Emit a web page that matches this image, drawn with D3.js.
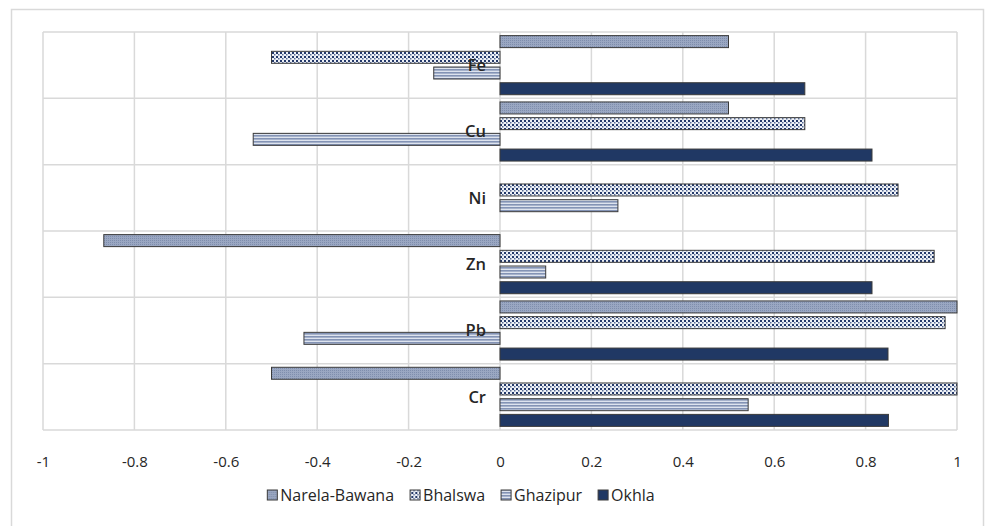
<!DOCTYPE html>
<html><head><meta charset="utf-8">
<script src="https://cdn.jsdelivr.net/npm/d3@7"></script>
<style>body{margin:0;background:#fff;}svg{display:block;font-family:"Open Sans",sans-serif;}</style>
</head><body><svg id="c" width="986" height="526"></svg>
<script>
const categories = ["Fe","Cu","Ni","Zn","Pb","Cr"];
const seriesNames = ["Narela-Bawana","Bhalswa","Ghazipur","Okhla"];
const narela = [0.5, 0.5, 0, -0.867, 1.0, -0.5];
const bhalswa = [-0.5, 0.667, 0.871, 0.95, 0.974, 1.0];
const ghazipur = [-0.145, -0.54, 0.258, 0.1, -0.429, 0.543];
const okhla = [0.667, 0.814, 0, 0.814, 0.849, 0.85];
const xTicks = [-1,-0.8,-0.6,-0.4,-0.2,0,0.2,0.4,0.6,0.8,1];
const seriesValues = [narela, bhalswa, ghazipur, okhla];

const svg = d3.select("#c");
const defs = svg.append("defs");
let p = defs.append("pattern").attr("id","p0").attr("patternUnits","userSpaceOnUse").attr("width",2).attr("height",2);
p.append("rect").attr("width",2).attr("height",2).attr("fill","#9AA7C2");
p.append("rect").attr("width",1).attr("height",1).attr("fill","#7F8EAD");
p = defs.append("pattern").attr("id","p1").attr("patternUnits","userSpaceOnUse").attr("width",4).attr("height",4);
p.append("rect").attr("width",4).attr("height",4).attr("fill","#EEF1F6");
p.append("rect").attr("x",0).attr("y",0).attr("width",2).attr("height",2).attr("fill","#24396A");
p.append("rect").attr("x",2).attr("y",2).attr("width",1.5).attr("height",1.5).attr("fill","#5B6E96");
p = defs.append("pattern").attr("id","p2").attr("patternUnits","userSpaceOnUse").attr("width",4).attr("height",3);
p.append("rect").attr("width",4).attr("height",3).attr("fill","#DDE3EE");
p.append("rect").attr("y",0).attr("width",4).attr("height",1.6).attr("fill","#8393B5");
const fills = ["url(#p0)","url(#p1)","url(#p2)","#203864"];

svg.append("rect").attr("x",11.5).attr("y",9.5).attr("width",972).attr("height",530)
  .attr("fill","none").attr("stroke","#D9D9D9").attr("stroke-width",1.5);

const x = d3.scaleLinear().domain([-1,1]).range([43,957]);
const y = d3.scaleBand().domain(categories).range([32,430]).paddingInner(0).paddingOuter(0);
const yi = d3.scaleBand().domain(seriesNames).range([0,y.bandwidth()]).paddingInner(0.236).paddingOuter(0.23);

const g = svg.append("g");
g.selectAll("line.v").data(xTicks).join("line")
  .attr("x1",d=>x(d)).attr("x2",d=>x(d)).attr("y1",32).attr("y2",430)
  .attr("stroke","#D9D9D9").attr("stroke-width",1.5);
const hb = categories.map(c=>y(c)).concat([y(categories[categories.length-1])+y.bandwidth()]);
g.selectAll("line.h").data(hb).join("line")
  .attr("x1",x(-1)).attr("x2",x(1)).attr("y1",d=>d).attr("y2",d=>d)
  .attr("stroke","#D9D9D9").attr("stroke-width",1.5);

const bars = [];
categories.forEach((c,ci)=>seriesValues.forEach((vals,si)=>{
  if (vals[ci] !== 0) bars.push({c, s:seriesNames[si], si, v:vals[ci]});
}));
g.selectAll("rect.bar").data(bars).join("rect")
  .attr("x",d=>x(Math.min(0,d.v))).attr("width",d=>Math.abs(x(d.v)-x(0)))
  .attr("y",d=>y(d.c)+yi(d.s)).attr("height",yi.bandwidth())
  .attr("fill",d=>fills[d.si]).attr("stroke","#3A3A3A").attr("stroke-width",1);

svg.append("g").selectAll("text").data(categories).join("text")
  .attr("x",x(0)-14).attr("y",d=>y(d)+y.bandwidth()/2).attr("dy","0.35em")
  .attr("text-anchor","end").attr("font-size",16.5).attr("font-weight",600).attr("fill","#262626")
  .text(d=>d);

const axis = d3.axisBottom(x).tickValues(xTicks).tickSize(0).tickFormat(d=>String(+d.toFixed(1)));
const ax = svg.append("g").attr("transform","translate(0,453)").call(axis);
ax.select(".domain").remove();
ax.selectAll("text").attr("font-size",15).attr("fill","#262626").attr("font-family","'Open Sans',sans-serif");

// legend, centred
const lg = svg.append("g");
let lx = 0;
seriesNames.forEach((n,i)=>{
  lg.append("rect").attr("x",lx).attr("y",490).attr("width",10).attr("height",10)
    .attr("fill",fills[i]).attr("stroke","#3A3A3A").attr("stroke-width",1);
  const t = lg.append("text").attr("x",lx+13).attr("y",495).attr("dy","0.35em")
    .attr("font-size",16).attr("fill","#262626").text(n);
  lx += 13 + t.node().getComputedTextLength() + 16;
});
const lw = lx - 16;
lg.attr("transform",`translate(${461 - lw/2},0)`);
</script></body></html>
